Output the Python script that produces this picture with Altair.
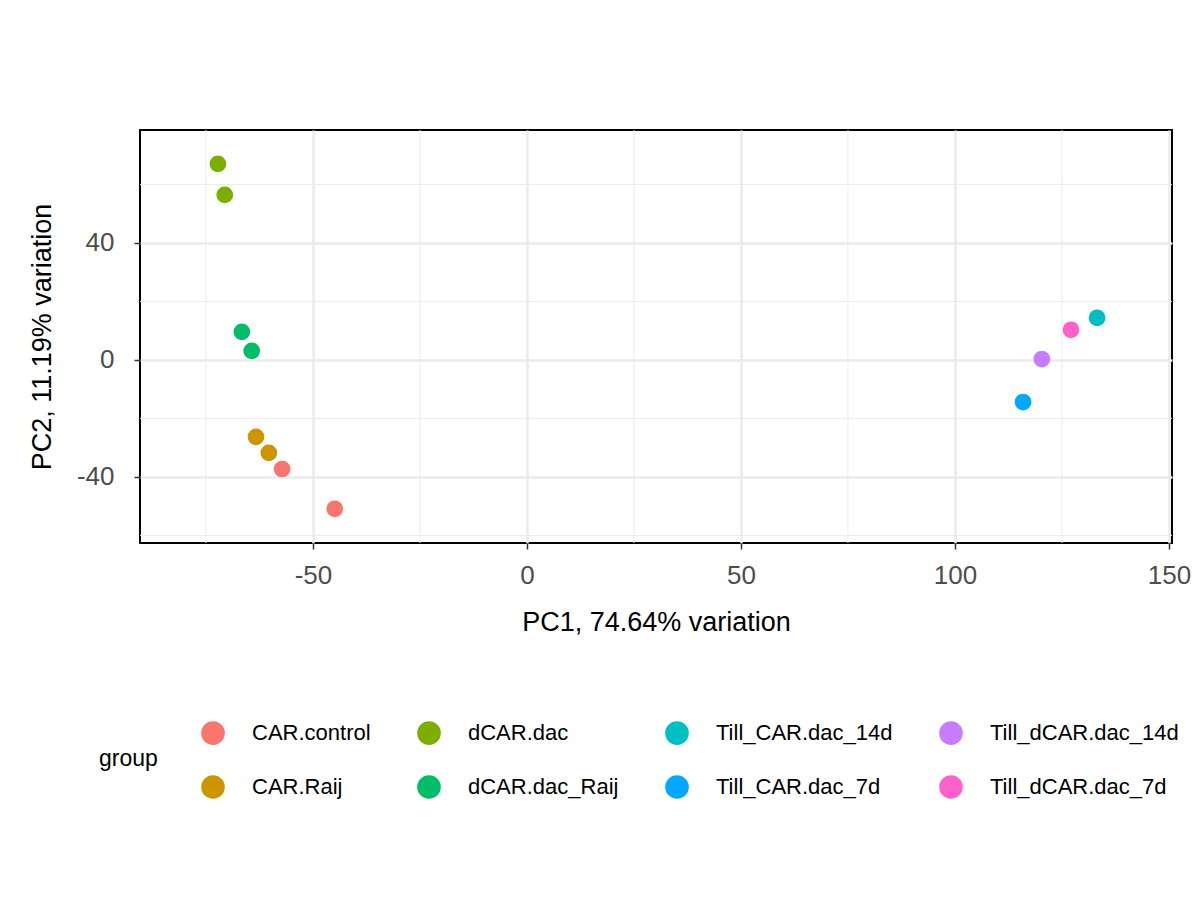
import pandas as pd
import altair as alt

groups = ["CAR.control", "CAR.control", "CAR.Raij", "CAR.Raij",
          "dCAR.dac", "dCAR.dac", "dCAR.dac_Raij", "dCAR.dac_Raij",
          "Till_CAR.dac_7d", "Till_dCAR.dac_14d", "Till_dCAR.dac_7d", "Till_CAR.dac_14d"]
pc1 = [-57.2, -44.9, -63.3, -60.3, -72.2, -70.6, -66.6, -64.3, 115.9, 120.3, 127.1, 133.2]
pc2 = [-37.3, -50.9, -26.3, -31.8, 67.0, 56.4, 9.6, 3.1, -14.4, 0.3, 10.3, 14.4]

legend_order = ["CAR.control", "dCAR.dac", "Till_CAR.dac_14d", "Till_dCAR.dac_14d",
                "CAR.Raij", "dCAR.dac_Raij", "Till_CAR.dac_7d", "Till_dCAR.dac_7d"]
legend_colors = ["#F8766D", "#7CAE00", "#00BFC4", "#C77CFF",
                 "#CD9600", "#00BE67", "#00A9FF", "#FF61CC"]

minor_x = [-75, -25, 25, 75, 125]
minor_y = [-60, -20, 20, 60]

df = pd.DataFrame({"group": groups, "pc1": pc1, "pc2": pc2})
xs = alt.Scale(domain=[-90.4, 150.7], nice=False, zero=False)
ys = alt.Scale(domain=[-62.6, 78.6], nice=False, zero=False)
xax = alt.Axis(values=[-50, 0, 50, 100, 150], labelExpr="toString(datum.value)",
               labelPadding=13, titlePadding=21)
yax = alt.Axis(values=[-40, 0, 40], labelExpr="toString(datum.value)",
               labelPadding=20, titlePadding=20)
xt = "PC1, 74.64% variation"
yt = "PC2, 11.19% variation"

vgrid = alt.Chart(pd.DataFrame({"v": minor_x})).mark_rule(color="#EBEBEB", strokeWidth=1).encode(
    x=alt.X("v:Q", scale=xs, axis=xax, title=xt))
hgrid = alt.Chart(pd.DataFrame({"v": minor_y})).mark_rule(color="#EBEBEB", strokeWidth=1).encode(
    y=alt.Y("v:Q", scale=ys, axis=yax, title=yt))

points = alt.Chart(df).mark_circle(size=280, opacity=1).encode(
    x=alt.X("pc1:Q", scale=xs, title=xt, axis=xax),
    y=alt.Y("pc2:Q", scale=ys, title=yt, axis=yax),
    color=alt.Color("group:N", scale=alt.Scale(domain=legend_order, range=legend_colors),
                    legend=alt.Legend(orient="none", legendX=-41, legendY=590, columns=4,
                                      direction="horizontal", titleOrient="left",
                                      symbolSize=560, symbolType="circle", labelLimit=0,
                                      labelFontSize=22, titleFontSize=23, titleFontWeight="normal",
                                      rowPadding=29, columnPadding=45, titlePadding=42,
                                      labelOffset=26, titleBaseline="middle")),
)

chart = alt.layer(vgrid, hgrid, points).properties(
    width=1032, height=413,
    autosize=alt.AutoSizeParams(type="none"),
    padding={"left": 132, "top": 122, "right": 20, "bottom": 340},
).configure_view(stroke="black", strokeWidth=2).configure_axis(
    grid=True, gridColor="#EBEBEB", gridWidth=2.5, domain=False,
    tickColor="#333333", tickSize=6, tickWidth=1.5,
    labelFontSize=26, labelColor="#4D4D4D", labelFont="Liberation Sans",
    titleFontSize=27, titleFontWeight="normal", titleColor="black", titleFont="Liberation Sans",
).configure_legend(labelFont="Liberation Sans", titleFont="Liberation Sans")

chart.save("out.html", embed_options={"renderer": "svg", "actions": False})
